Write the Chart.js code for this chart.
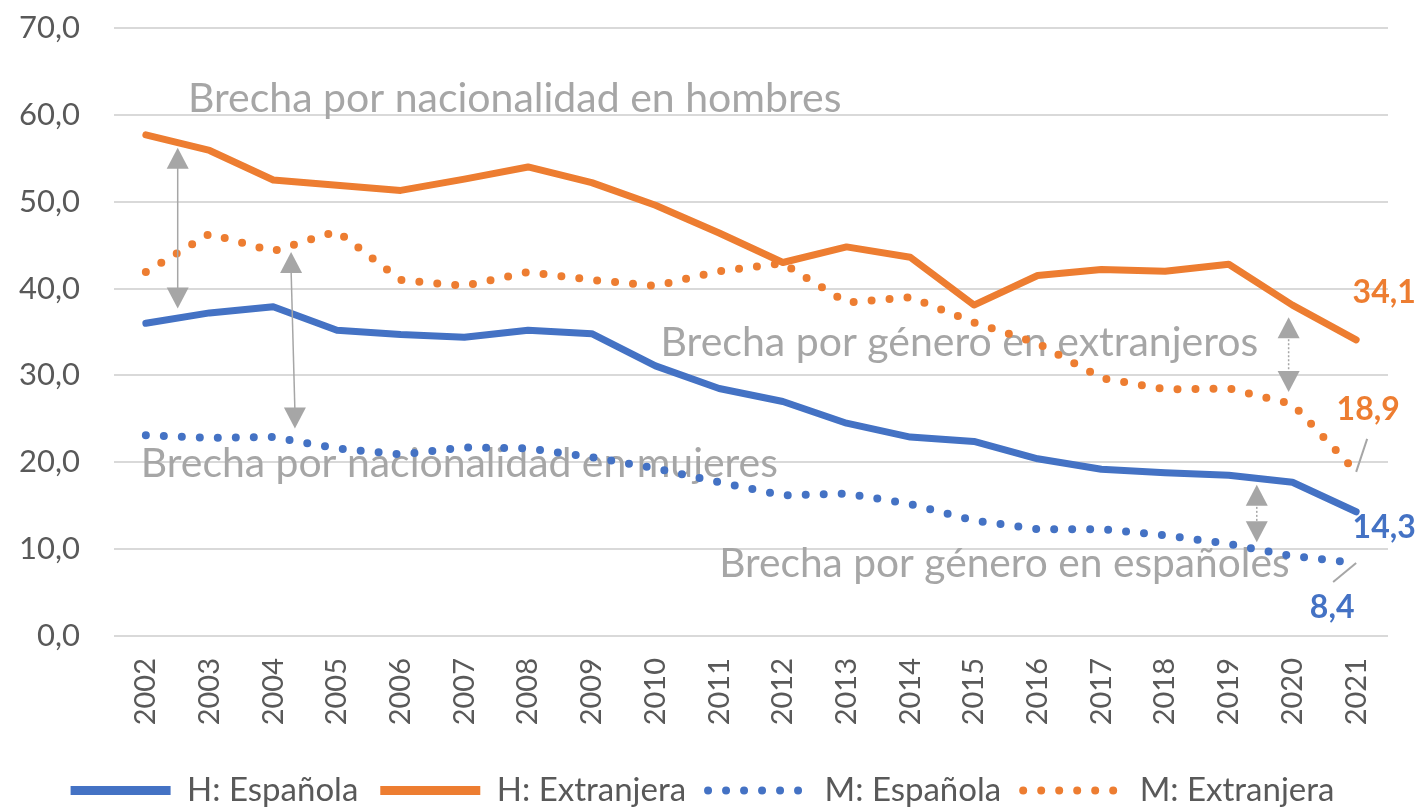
<!DOCTYPE html>
<html>
<head>
<meta charset="utf-8">
<script src="https://cdn.jsdelivr.net/npm/chart.js@4.4.1/dist/chart.umd.min.js"></script>
<style>
  html, body { margin: 0; padding: 0; background: #fff; }
  #wrap { width: 1417px; height: 809px; position: relative; }
</style>
</head>
<body>
<div id="wrap"><canvas id="chart"></canvas></div>
<script>
// datos
const years = ["2002","2003","2004","2005","2006","2007","2008","2009","2010","2011",
  "2012","2013","2014","2015","2016","2017","2018","2019","2020","2021"];
const hEspanola   = [36.0,37.2,37.9,35.2,34.7,34.4,35.2,34.8,31.1,28.5,27.0,24.5,22.9,22.4,20.4,19.2,18.8,18.5,17.7,14.3];
const hExtranjera = [57.7,55.9,52.5,51.9,51.3,52.6,54.0,52.2,49.6,46.4,43.0,44.8,43.6,38.1,41.5,42.2,42.0,42.8,38.1,34.1];
const mEspanola   = [23.1,22.8,22.9,21.6,20.9,21.7,21.6,20.6,19.3,17.7,16.2,16.4,15.2,13.3,12.3,12.3,11.6,10.6,9.2,8.4];
const mExtranjera = [41.9,46.3,44.3,46.6,41.0,40.3,41.9,41.0,40.3,42.0,42.9,38.4,39.0,36.1,33.7,29.7,28.4,28.5,26.7,18.9];
const seriesNames = ["H: Española","H: Extranjera","M: Española","M: Extranjera"];
const yMin = 0, yMax = 70, yStep = 10;

const BLUE = "#4472c4", ORANGE = "#ed7d31", GREY = "#a6a6a6", TEXT = "#595959";
const FONT = "Lato, 'Noto Sans', sans-serif";

// textos de brecha: posición en (índice de año, valor)
const gapTexts = [
  { text: "Brecha por nacionalidad en hombres", i: 0.66, v: 60.3, w: 653 },
  { text: "Brecha por género en extranjeros", i: 8.08, v: 32.2, w: 598 },
  { text: "Brecha por nacionalidad en mujeres", i: -0.08, v: 18.3, w: 638 },
  { text: "Brecha por género en españoles", i: 9.0, v: 6.8, w: 570 },
];
// flechas dobles
const gapArrows = [
  { i1: 0.5, i2: 0.5, top: 56.2, bottom: 37.7, dotted: false },
  { i1: 2.28, i2: 2.34, top: 44.2, bottom: 23.9, dotted: false },
  { i1: 17.94, i2: 17.94, top: 36.7, bottom: 28.1, dotted: true },
  { i1: 17.44, i2: 17.44, top: 17.4, bottom: 10.8, dotted: true },
];

const fmt = (v) => v.toFixed(1).replace(".", ",");

function fitFont(ctx, text, width, weight) {
  ctx.font = `${weight || ""} 40px ${FONT}`;
  const s = 40 * width / ctx.measureText(text).width;
  return `${weight || ""} ${s.toFixed(1)}px ${FONT}`;
}

const gapTextPlugin = {
  id: "gapText",
  beforeDatasetsDraw(chart) {
    const { ctx, scales: { x, y } } = chart;
    ctx.save();
    ctx.fillStyle = GREY;
    ctx.textBaseline = "alphabetic";
    ctx.textAlign = "left";
    gapTexts.forEach((t) => {
      ctx.font = fitFont(ctx, t.text, t.w);
      ctx.fillText(t.text, x.getPixelForValue(t.i), y.getPixelForValue(t.v));
    });
    ctx.restore();
  },
};

function arrowHead(ctx, px, py, dir) {
  ctx.beginPath();
  ctx.moveTo(px, py);
  ctx.lineTo(px - 11, py + dir * 21);
  ctx.lineTo(px + 11, py + dir * 21);
  ctx.closePath();
  ctx.fill();
}

const arrowPlugin = {
  id: "gapArrows",
  afterDatasetsDraw(chart) {
    const { ctx, scales: { x, y } } = chart;
    ctx.save();
    ctx.strokeStyle = GREY;
    ctx.fillStyle = GREY;
    gapArrows.forEach((a) => {
      const x1 = x.getPixelForValue(a.i1), x2 = x.getPixelForValue(a.i2);
      const y1 = y.getPixelForValue(a.top), y2 = y.getPixelForValue(a.bottom);
      ctx.lineWidth = 1.5;
      ctx.setLineDash(a.dotted ? [2, 2] : []);
      ctx.beginPath();
      ctx.moveTo(x1, y1 + 18);
      ctx.lineTo(x2, y2 - 18);
      ctx.stroke();
      ctx.setLineDash([]);
      arrowHead(ctx, x1, y1, 1);
      arrowHead(ctx, x2, y2, -1);
    });
    ctx.restore();
  },
};

// etiquetas del último valor
const endLabels = [
  { ds: 1, dx: 28, dy: -47, leader: null },
  { ds: 3, dx: 12, dy: -62, leader: [11, -33] },
  { ds: 0, dx: 28, dy: 16, leader: null },
  { ds: 2, dx: -24, dy: 45, leader: [-23, 19] },
];

const endLabelPlugin = {
  id: "endLabels",
  afterDatasetsDraw(chart) {
    const { ctx } = chart;
    ctx.save();
    ctx.font = `bold 32px ${FONT}`;
    ctx.textAlign = "center";
    ctx.textBaseline = "middle";
    endLabels.forEach((l) => {
      const meta = chart.getDatasetMeta(l.ds);
      const pt = meta.data[meta.data.length - 1];
      const ds = chart.data.datasets[l.ds];
      if (l.leader) {
        ctx.strokeStyle = GREY;
        ctx.lineWidth = 2;
        ctx.beginPath();
        ctx.moveTo(pt.x, pt.y);
        ctx.lineTo(pt.x + l.leader[0], pt.y + l.leader[1]);
        ctx.stroke();
      }
      ctx.fillStyle = ds.borderColor;
      ctx.fillText(fmt(ds.data[ds.data.length - 1]), pt.x + l.dx, pt.y + l.dy);
    });
    ctx.restore();
  },
};

function lineSet(label, data, color, dotted) {
  return {
    label,
    data,
    borderColor: color,
    backgroundColor: color,
    borderWidth: dotted ? 8 : 7,
    borderDash: dotted ? [0, 18] : [],
    borderCapStyle: "round",
    borderJoinStyle: "round",
    pointRadius: 0,
    tension: 0,
    fill: false,
  };
}

new Chart(document.getElementById("chart"), {
  type: "line",
  data: {
    labels: years,
    datasets: [
      lineSet(seriesNames[0], hEspanola, BLUE, false),
      lineSet(seriesNames[1], hExtranjera, ORANGE, false),
      lineSet(seriesNames[2], mEspanola, BLUE, true),
      lineSet(seriesNames[3], mExtranjera, ORANGE, true),
    ],
  },
  options: {
    responsive: true,
    maintainAspectRatio: false,
    animation: false,
    layout: { padding: { top: 28, right: 29, left: 17, bottom: -8 } },
    plugins: {
      legend: {
        position: "bottom",
        labels: {
          usePointStyle: true,
          pointStyle: "line",
          pointStyleWidth: 100,
          color: TEXT,
          font: { family: FONT, size: 33 },
          padding: 22,
          generateLabels: (chart) =>
            chart.data.datasets.map((ds, i) => ({
              text: ds.label,
              fillStyle: ds.borderColor,
              strokeStyle: ds.borderColor,
              fontColor: TEXT,
              lineWidth: ds.borderDash.length ? 8 : 9,
              lineDash: ds.borderDash,
              lineCap: ds.borderDash.length ? "round" : "butt",
              pointStyle: "line",
              hidden: false,
              datasetIndex: i,
            })),
        },
      },
      tooltip: { enabled: false },
    },
    scales: {
      x: {
        offset: true,
        grid: { display: false },
        border: { display: false },
        ticks: {
          minRotation: 90,
          maxRotation: 90,
          color: TEXT,
          font: { family: FONT, size: 29 },
          padding: 14,
        },
        afterFit: (s) => {
          s.height = 116;
          s.paddingLeft = 0;
          s.paddingRight = 0;
        },
      },
      y: {
        min: yMin,
        max: yMax,
        grid: { color: "#d9d9d9", lineWidth: 2, drawTicks: false },
        border: { display: false },
        ticks: {
          stepSize: yStep,
          color: TEXT,
          font: { family: FONT, size: 31 },
          padding: 34,
          callback: (v) => fmt(v),
        },
        afterFit: (s) => {
          s.width = 97;
          s.paddingTop = 0;
          s.paddingBottom = 0;
        },
      },
    },
  },
  plugins: [gapTextPlugin, arrowPlugin, endLabelPlugin],
});
</script>
</body>
</html>
